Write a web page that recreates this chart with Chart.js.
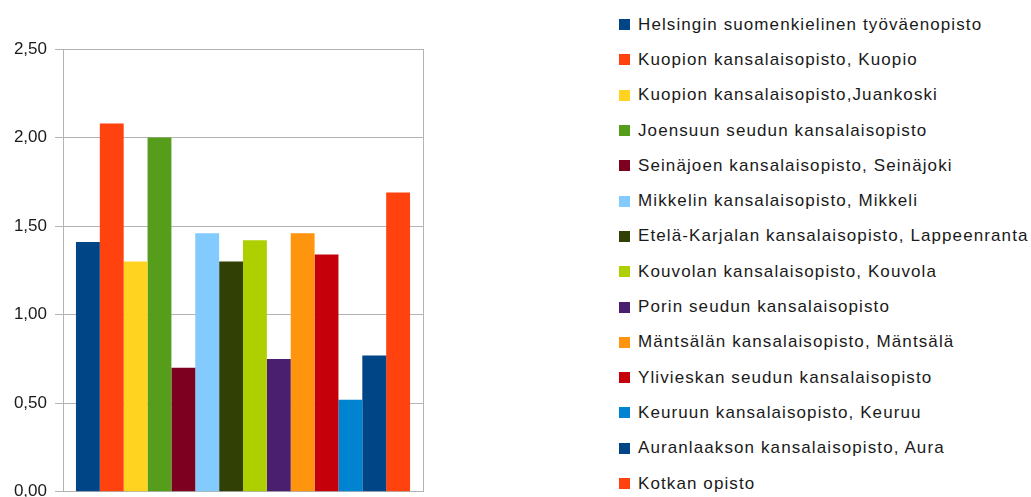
<!DOCTYPE html>
<html>
<head>
<meta charset="utf-8">
<script src="https://cdn.jsdelivr.net/npm/chart.js@4/dist/chart.umd.min.js"></script>
<style>
  html, body { margin: 0; padding: 0; background: #fff; overflow: hidden; width: 1031px; height: 497px; }
  #wrap { position: absolute; left: 0; top: 0; width: 440px; height: 510px; }
  #legend { position: absolute; left: 619px; top: 7px; margin: 0; padding: 0; list-style: none;
            font-family: "Liberation Sans", Arial, sans-serif; font-size: 17px; color: #1a1a1a; }
  #legend li { height: 35.3px; display: flex; align-items: center; white-space: nowrap; }
  #legend .box { width: 11px; height: 11px; margin-right: 8px; flex: none; }
  #legend .txt { letter-spacing: 1.1px; }
</style>
</head>
<body>
<div id="wrap"><canvas id="c"></canvas></div>
<ul id="legend"></ul>
<script>
const categories = [""];
const seriesNames = [
  "Helsingin suomenkielinen työväenopisto",
  "Kuopion kansalaisopisto, Kuopio",
  "Kuopion kansalaisopisto,Juankoski",
  "Joensuun seudun kansalaisopisto",
  "Seinäjoen kansalaisopisto, Seinäjoki",
  "Mikkelin kansalaisopisto, Mikkeli",
  "Etelä-Karjalan kansalaisopisto, Lappeenranta",
  "Kouvolan kansalaisopisto, Kouvola",
  "Porin seudun kansalaisopisto",
  "Mäntsälän kansalaisopisto, Mäntsälä",
  "Ylivieskan seudun kansalaisopisto",
  "Keuruun kansalaisopisto, Keuruu",
  "Auranlaakson kansalaisopisto, Aura",
  "Kotkan opisto"
];
const seriesValues = [1.41, 2.08, 1.30, 2.00, 0.70, 1.46, 1.30, 1.42, 0.75, 1.46, 1.34, 0.52, 0.77, 1.69];
const seriesColors = ["#004586", "#ff420e", "#ffd320", "#579d1c", "#7e0021", "#83caff", "#314004",
                      "#aecf00", "#4b1f6f", "#ff950e", "#c5000b", "#0084d1", "#004586", "#ff420e"];
const yTicks = { min: 0, max: 2.5, step: 0.5 };

const datasets = seriesNames.map((name, i) => ({
  label: name,
  data: [seriesValues[i]],
  backgroundColor: seriesColors[i],
  borderWidth: 0,
  categoryPercentage: 0.928,
  barPercentage: 1.0
}));

const chart = new Chart(document.getElementById('c'), {
  type: 'bar',
  data: { labels: categories, datasets },
  options: {
    responsive: true,
    maintainAspectRatio: false,
    animation: false,
    layout: { padding: { top: 49, right: 17, bottom: 0, left: 0 } },
    plugins: { legend: { display: false }, tooltip: { enabled: false } },
    scales: {
      x: {
        offset: true,
        ticks: { display: false },
        grid: { display: true, offset: true, color: '#b3b3b3', drawTicks: false, lineWidth: 1 },
        border: { display: true, color: '#b3b3b3' },
        afterFit: s => { s.height = 17; }
      },
      y: {
        min: yTicks.min, max: yTicks.max,
        ticks: {
          stepSize: yTicks.step,
          padding: 8,
          color: '#1a1a1a',
          font: { family: '"Liberation Sans", Arial, sans-serif', size: 17 },
          callback: v => Number(v).toFixed(2).replace('.', ',')
        },
        grid: { color: '#b3b3b3', tickLength: 8, lineWidth: 1 },
        border: { display: true, color: '#b3b3b3' },
        afterFit: s => { s.width = 63; }
      }
    }
  }
});

const ul = document.getElementById('legend');
chart.data.datasets.forEach(ds => {
  const li = document.createElement('li');
  const b = document.createElement('span');
  b.className = 'box';
  b.style.background = ds.backgroundColor;
  const t = document.createElement('span');
  t.className = 'txt';
  t.textContent = ds.label;
  li.appendChild(b); li.appendChild(t);
  ul.appendChild(li);
});
</script>
</body>
</html>
